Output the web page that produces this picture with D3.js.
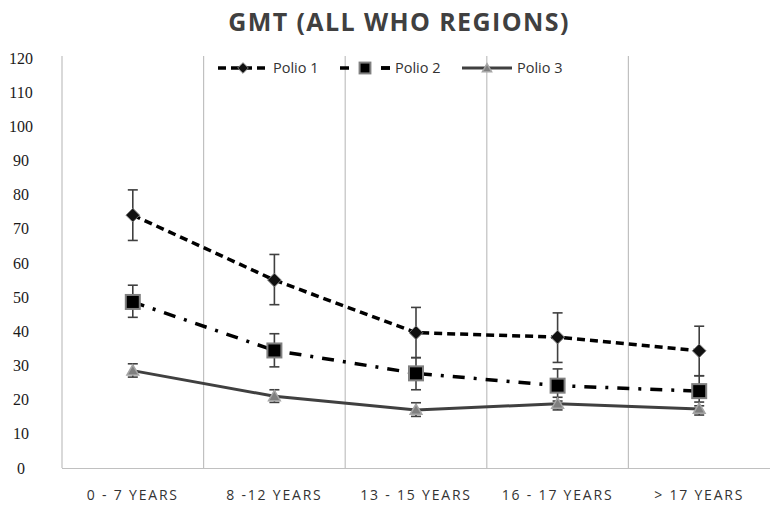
<!DOCTYPE html>
<html>
<head>
<meta charset="utf-8">
<script src="https://cdn.jsdelivr.net/npm/d3@7"></script>
<style>
  body { margin: 0; background: #fff; }
  .ylab { font-family: "Liberation Serif", "DejaVu Serif", serif; font-size: 16px; }
</style>
</head>
<body>
<div id="chart-area"></div>
<script>
// data
let categories = ["0 - 7 YEARS", "8 -12 YEARS", "13 - 15 YEARS", "16 - 17 YEARS", "> 17 YEARS"];
let yTicks = [0, 10, 20, 30, 40, 50, 60, 70, 80, 90, 100, 110, 120];

let polio1 = [74, 55, 39.6, 38.3, 34.3];
let polio1Hi = [81.4, 62.5, 47, 45.4, 41.5];
let polio1Lo = [66.6, 47.8, 32.3, 30.9, 27];

let polio2 = [48.6, 34.4, 27.7, 24.1, 22.5];
let polio2Hi = [53.5, 39.3, 32.3, 29, 27];
let polio2Lo = [44.1, 29.6, 22.9, 19.6, 18.2];

let polio3 = [28.5, 21, 17, 18.8, 17.3];
let polio3Hi = [30.5, 22.9, 19.1, 20.7, 19.3];
let polio3Lo = [26.6, 19.2, 15.1, 17, 15.5];

let series = [
  { name: "Polio 1", vals: polio1, hi: polio1Hi, lo: polio1Lo, marker: "diamond" },
  { name: "Polio 2", vals: polio2, hi: polio2Hi, lo: polio2Lo, marker: "square" },
  { name: "Polio 3", vals: polio3, hi: polio3Hi, lo: polio3Lo, marker: "triangle" }
];

// margins
let margin = { lft: 62, rht: 8, top: 58, bot: 39 };
let W = 778, H = 507;
let width = W - margin.lft - margin.rht;
let height = H - margin.top - margin.bot;

let svg = d3.select("#chart-area")
  .append("svg")
    .attr("width", W)
    .attr("height", H);

// title
svg.append("text")
  .attr("x", 399)
  .attr("y", 31)
  .attr("text-anchor", "middle")
  .style("font-family", "'Open Sans'")
  .style("font-weight", "bold")
  .style("font-size", "25px")
  .style("letter-spacing", "1.4px")
  .attr("fill", "#404040")
  .text("GMT (ALL WHO REGIONS)");

let g = svg.append("g")
  .attr("transform", `translate(${margin.lft}, ${margin.top})`);

let x = d3.scaleBand()
  .domain(categories)
  .range([0, width]);

let y = d3.scaleLinear()
  .domain([0, 120])
  .range([height, 0]);

// vertical gridlines between categories
g.selectAll(".vgrid")
  .data(categories.slice(1))
  .enter()
  .append("line")
    .attr("class", "vgrid")
    .attr("x1", d => x(d))
    .attr("x2", d => x(d))
    .attr("y1", -2)
    .attr("y2", height)
    .attr("stroke", "#c0c0c0")
    .attr("stroke-width", 1.2);

// frame: left + bottom
g.append("line")
  .attr("x1", 0).attr("x2", 0)
  .attr("y1", -2).attr("y2", height)
  .attr("stroke", "#c0c0c0").attr("stroke-width", 1.2);
g.append("line")
  .attr("x1", 0).attr("x2", width)
  .attr("y1", height + 0.5).attr("y2", height + 0.5)
  .attr("stroke", "#c0c0c0").attr("stroke-width", 1.2);

// y axis labels
let yAxisCall = d3.axisLeft(y).tickValues(yTicks).tickSize(0).tickPadding(0);
let yAxis = g.append("g").call(yAxisCall);
yAxis.select(".domain").remove();
yAxis.attr("font-family", null).attr("font-size", null);
yAxis.selectAll("text")
  .attr("class", "ylab")
  .attr("x", 21 - margin.lft)
  .attr("text-anchor", "middle")
  .attr("fill", "#1a1a1a");

// x axis labels
let xAxisCall = d3.axisBottom(x).tickSize(0).tickPadding(0);
let xAxis = g.append("g")
  .attr("transform", `translate(0, ${height})`)
  .call(xAxisCall);
xAxis.select(".domain").remove();
xAxis.attr("font-family", null).attr("font-size", null);
xAxis.selectAll("text")
  .attr("y", 22)
  .style("font-family", "'Open Sans'")
  .style("font-size", "14px")
  .style("letter-spacing", "1.8px")
  .attr("fill", "#333");

let cx = (i) => x(categories[i]) + x.bandwidth() / 2;

let styles = {
  "Polio 1": { stroke: "#000", width: 3.5, dash: "8,5" },
  "Polio 2": { stroke: "#000", width: 3.5, dash: "12,9,3,9" },
  "Polio 3": { stroke: "#404040", width: 3, dash: null }
};

function drawMarker(sel, type, px, py, k) {
  if (type === "diamond") {
    sel.append("path")
      .attr("d", d3.symbol(d3.symbolDiamond2, 120 * k)())
      .attr("transform", `translate(${px},${py})`)
      .attr("fill", "#111")
      .attr("stroke", "#808080")
      .attr("stroke-width", 1);
  } else if (type === "square") {
    let s = 14 * Math.sqrt(k);
    sel.append("rect")
      .attr("x", px - s / 2).attr("y", py - s / 2)
      .attr("width", s).attr("height", s)
      .attr("fill", "#000")
      .attr("stroke", "#808080")
      .attr("stroke-width", 2);
  } else {
    sel.append("path")
      .attr("d", d3.symbol(d3.symbolTriangle, 60 * k)())
      .attr("transform", `translate(${px},${py + 1})`)
      .attr("fill", "#7f7f7f")
      .attr("stroke", "#a6a6a6")
      .attr("stroke-width", 1.5);
  }
}

let line = d3.line()
  .x((d, i) => cx(i))
  .y(d => y(d));

// lines
series.forEach(s => {
  let st = styles[s.name];
  g.append("path")
    .datum(s.vals)
    .attr("d", line)
    .attr("fill", "none")
    .attr("stroke", st.stroke)
    .attr("stroke-width", st.width)
    .attr("stroke-dasharray", st.dash);
});

// error bars
series.forEach(s => {
  s.vals.forEach((v, i) => {
    let eb = g.append("g").attr("stroke", "#404040").attr("stroke-width", 1.6);
    eb.append("line")
      .attr("x1", cx(i)).attr("x2", cx(i))
      .attr("y1", y(s.hi[i])).attr("y2", y(s.lo[i]));
    [s.hi[i], s.lo[i]].forEach(e => {
      eb.append("line")
        .attr("x1", cx(i) - 5).attr("x2", cx(i) + 5)
        .attr("y1", y(e)).attr("y2", y(e));
    });
  });
});

// markers
series.forEach(s => {
  let mg = g.append("g");
  s.vals.forEach((v, i) => drawMarker(mg, s.marker, cx(i), y(v), 1));
});

// legend
let legendX = [218, 340, 462];
let legend = svg.append("g");
series.forEach((s, i) => {
  let st = styles[s.name];
  let lx = legendX[i], ly = 68;
  legend.append("line")
    .attr("x1", lx).attr("x2", lx + 50)
    .attr("y1", ly).attr("y2", ly)
    .attr("stroke", st.stroke)
    .attr("stroke-width", st.width)
    .attr("stroke-dasharray", s.name === "Polio 2" ? "9,32" : st.dash);
  if (s.name === "Polio 2") {
    legend.append("line")
      .attr("x1", lx + 41).attr("x2", lx + 50)
      .attr("y1", ly).attr("y2", ly)
      .attr("stroke", st.stroke)
      .attr("stroke-width", st.width);
  }
  drawMarker(legend, s.marker, lx + 25, ly, 0.6);
  legend.append("text")
    .attr("x", lx + 55)
    .attr("y", ly + 5)
    .style("font-family", "'Open Sans'")
    .style("font-size", "14.5px")
    .attr("fill", "#333")
    .text(s.name);
});
</script>
</body>
</html>
